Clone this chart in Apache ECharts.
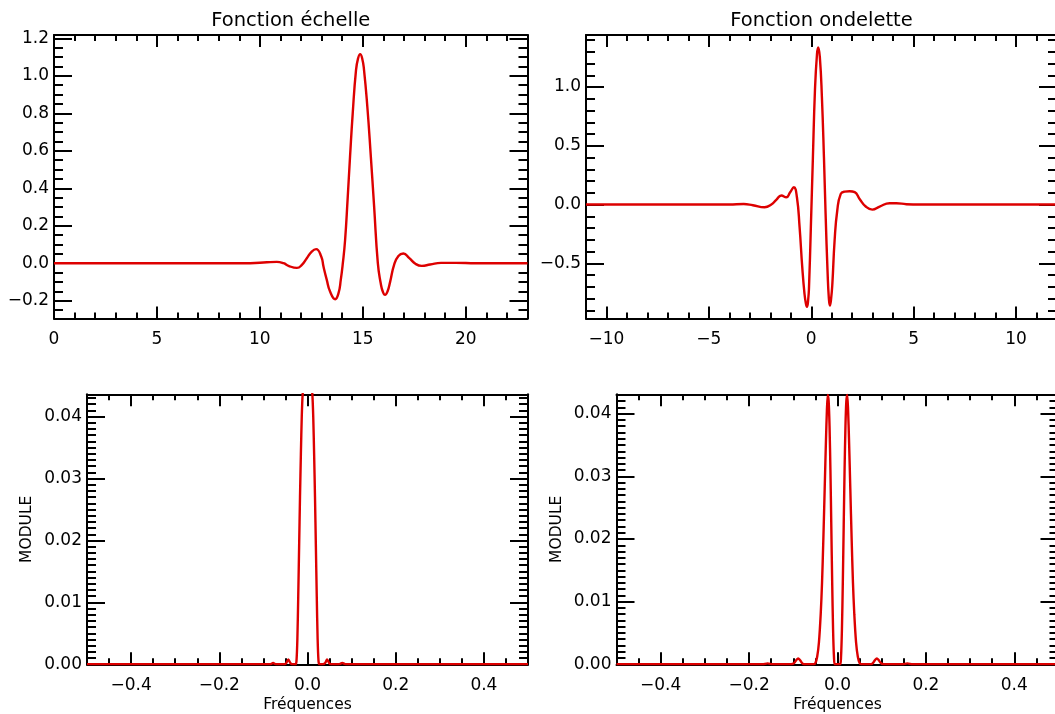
<!DOCTYPE html>
<html><head><meta charset="utf-8">
<script src="https://cdn.jsdelivr.net/npm/echarts@6/dist/echarts.min.js"></script>
<style>html,body{margin:0;padding:0;background:#fff}#c{width:1055px;height:714px}</style>
</head><body><div id="c"></div>
<script>
// ---- data ----
const echelleX = [0, 3, 6, 9, 9.53, 10.34, 10.82, 11.15, 11.39, 11.80, 12.04, 12.28, 12.52, 12.73, 12.98, 13.09, 13.25, 13.41, 13.66, 13.82, 13.93, 14.03, 14.14, 14.26, 14.38, 14.51, 14.67, 14.77, 14.87, 14.97, 15.06, 15.22, 15.39, 15.55, 15.73, 15.87, 15.97, 16.08, 16.20, 16.33, 16.52, 16.73, 16.97, 17.26, 17.57, 17.86, 18.27, 18.8, 19.5, 20.5, 23];
const echelleY = [0, 0, 0, 0, 0, 0.005, 0.007, 0, -0.014, -0.025, -0.009, 0.027, 0.062, 0.075, 0.036, -0.018, -0.089, -0.151, -0.192, -0.16, -0.089, 0, 0.124, 0.338, 0.569, 0.80, 1.031, 1.093, 1.116, 1.093, 1.031, 0.835, 0.569, 0.302, 0, -0.107, -0.151, -0.169, -0.151, -0.098, -0.009, 0.039, 0.052, 0.027, -0.004, -0.014, -0.007, 0.002, 0.002, 0, 0];

const ondeletteX = [-11, -7, -4, -3.3, -2.85, -2.28, -1.95, -1.71, -1.46, -1.22, -1.03, -0.85, -0.70, -0.57, -0.44, -0.33, -0.26, -0.21, -0.15, -0.11, -0.02, 0.08, 0.18, 0.28, 0.34, 0.42, 0.52, 0.62, 0.70, 0.80, 0.86, 0.91, 0.97, 1.03, 1.14, 1.27, 1.44, 1.63, 1.87, 2.12, 2.36, 2.66, 2.98, 3.34, 3.83, 4.16, 4.64, 5.3, 8, 12];
const ondeletteY = [0, 0, 0, 0.004, -0.006, -0.023, 0, 0.04, 0.077, 0.062, 0.105, 0.147, 0.062, -0.193, -0.533, -0.76, -0.845, -0.87, -0.81, -0.703, -0.193, 0.40, 0.97, 1.281, 1.338, 1.253, 0.913, 0.40, -0.079, -0.59, -0.80, -0.86, -0.80, -0.675, -0.306, -0.051, 0.091, 0.11, 0.113, 0.105, 0.048, -0.017, -0.043, -0.017, 0.011, 0.011, 0.003, 0, 0, 0];

const moduleEchelleX = [-0.5, -0.1, -0.085, -0.078, -0.071, -0.052, -0.048, -0.0435, -0.039, -0.035, -0.027, -0.025, -0.023, -0.021, -0.019, -0.017, -0.015, -0.013, -0.011, -0.008, -0.004, 0, 0.004, 0.008, 0.011, 0.013, 0.015, 0.017, 0.019, 0.021, 0.023, 0.025, 0.027, 0.035, 0.040, 0.0445, 0.049, 0.053, 0.071, 0.079, 0.087, 0.1, 0.5];
const moduleEchelleY = [0, 0, 0, 0.0002, 0, 0, 0.0002, 0.0008, 0.0002, 0, 0, 0.0005, 0.004, 0.011, 0.019, 0.027, 0.034, 0.040, 0.0436, 0.0455, 0.0468, 0.047, 0.0468, 0.0455, 0.0436, 0.040, 0.034, 0.027, 0.019, 0.011, 0.004, 0.0005, 0, 0, 0.0002, 0.0008, 0.0002, 0, 0, 0.0002, 0, 0, 0];

const moduleOndeletteX = [-0.5, -0.17, -0.158, -0.146, -0.105, -0.098, -0.093, -0.089, -0.085, -0.080, -0.075, -0.054, -0.050, -0.046, -0.042, -0.038, -0.035, -0.032, -0.029, -0.026, -0.024, -0.022, -0.020, -0.018, -0.016, -0.014, -0.012, -0.010, -0.008, -0.006, 0, 0.006, 0.008, 0.010, 0.012, 0.014, 0.016, 0.018, 0.020, 0.022, 0.024, 0.026, 0.029, 0.032, 0.035, 0.038, 0.042, 0.046, 0.050, 0.054, 0.075, 0.080, 0.085, 0.089, 0.093, 0.098, 0.105, 0.146, 0.158, 0.17, 0.5];
const moduleOndeletteY = [0, 0, 0.00015, 0, 0, 0.0002, 0.0007, 0.00095, 0.0007, 0.0002, 0, 0, 0.0002, 0.0012, 0.0035, 0.008, 0.013, 0.020, 0.028, 0.036, 0.0405, 0.043, 0.042, 0.038, 0.031, 0.022, 0.013, 0.0055, 0.0012, 0, 0, 0, 0.0012, 0.0055, 0.013, 0.022, 0.031, 0.038, 0.042, 0.043, 0.0405, 0.036, 0.028, 0.020, 0.013, 0.008, 0.0035, 0.0012, 0.0002, 0, 0, 0.0002, 0.0007, 0.00095, 0.0007, 0.0002, 0, 0, 0.00015, 0, 0];

// ---- tick labels ----
const echelleXTicks = [0, 5, 10, 15, 20];
const echelleYTicks = [-0.2, 0, 0.2, 0.4, 0.6, 0.8, 1.0, 1.2];
const ondeletteXTicks = [-10, -5, 0, 5, 10];
const ondeletteYTicks = [-0.5, 0, 0.5, 1.0];
const freqTicks = [-0.4, -0.2, 0, 0.2, 0.4];
const moduleTicks = [0, 0.01, 0.02, 0.03, 0.04];

const titles = ['Fonction échelle', 'Fonction ondelette'];
const xName = 'Fréquences';
const yName = 'MODULE';

// ---- helpers ----
function steps(a, b, s) { const out = []; const n = Math.round((b - a) / s); for (let i = 0; i <= n; i++) out.push(+(a + i * s).toFixed(6)); return out; }
function fmt(d) { return function (v) { return (Math.abs(v) < 1e-12 ? 0 : v).toFixed(d).replace('-', '\u2212'); }; }
function pairs(xs, ys) { return xs.map((x, i) => [x, ys[i]]); }

const FONT = 'DejaVu Sans';
const BLACK = '#000';
const RED = '#dd0000';
const grids = [], xAxes = [], yAxes = [], series = [];

function addPanel(p) {
  const gi = grids.length;
  grids.push({ left: p.left, top: p.top, width: p.width, height: p.height, containLabel: false, outerBoundsMode: 'none' });
  const lineStyle = { color: BLACK, width: 2 };
  const tickStyle = { color: BLACK, width: 2 };
  const common = { type: 'value', gridIndex: gi, splitLine: { show: false }, minorTick: { show: false }, splitArea: { show: false }, nameMoveOverlap: false };
  const lbl = (vals, d, margin) => ({ show: true, customValues: vals, formatter: fmt(d), margin: margin, color: BLACK, fontFamily: FONT, fontSize: 17 });
  const noLbl = { show: false };
  function mk(dim, pos, main, vals, len, label, extra) {
    return Object.assign({}, common, {
      min: dim === 'x' ? p.xMin : p.yMin, max: dim === 'x' ? p.xMax : p.yMax,
      position: pos,
      axisLine: { show: main, onZero: false, lineStyle: lineStyle },
      axisTick: { show: true, inside: true, length: len, customValues: vals, lineStyle: tickStyle },
      axisLabel: label || noLbl
    }, extra || {});
  }
  const xi = xAxes.length, yi = yAxes.length;
  xAxes.push(mk('x', 'bottom', true, p.xTicks, 12, lbl(p.xTicks, p.xDec, 12.5),
    p.xName ? { name: p.xName, nameLocation: 'middle', nameGap: 33, nameTextStyle: { color: BLACK, fontFamily: FONT, fontSize: 15.5 } } : {}));
  xAxes.push(mk('x', 'bottom', false, p.xMinor, 6));
  xAxes.push(mk('x', 'top', true, p.xTicks, 12));
  xAxes.push(mk('x', 'top', false, p.xMinor, 6));
  yAxes.push(mk('y', 'left', true, p.yTicks, 18, lbl(p.yTicks, p.yDec, 5),
    p.yName ? { name: p.yName, nameLocation: 'middle', nameGap: 52, nameRotate: 90, nameTextStyle: { color: BLACK, fontFamily: FONT, fontSize: 15.5 } } : {}));
  yAxes.push(mk('y', 'left', false, p.yMinor, 9));
  yAxes.push(mk('y', 'right', true, p.yTicks, 18));
  yAxes.push(mk('y', 'right', false, p.yMinor, 9));
  series.push({
    type: 'line', xAxisIndex: xi, yAxisIndex: yi, data: pairs(p.xs, p.ys),
    showSymbol: false, symbol: 'none', smooth: p.smooth, clip: true,
    lineStyle: { color: RED, width: 2.4 }, emphasis: { disabled: true }, silent: true
  });
}

addPanel({ left: 54, top: 35, width: 473.5, height: 283.5,
  xMin: 0, xMax: 23, yMin: -0.295, yMax: 1.218,
  xTicks: echelleXTicks, xMinor: steps(0, 23, 1), xDec: 0,
  yTicks: echelleYTicks, yMinor: steps(-0.25, 1.2, 0.05), yDec: 1,
  xs: echelleX, ys: echelleY, smooth: 0.5 });
addPanel({ left: 586, top: 35, width: 471, height: 283.5,
  xMin: -11, xMax: 12, yMin: -0.97, yMax: 1.443,
  xTicks: ondeletteXTicks, xMinor: steps(-11, 12, 1), xDec: 0,
  yTicks: ondeletteYTicks, yMinor: steps(-0.9, 1.4, 0.1), yDec: 1,
  xs: ondeletteX, ys: ondeletteY, smooth: 0.5 });
addPanel({ left: 87, top: 394.3, width: 441, height: 270,
  xMin: -0.5, xMax: 0.5, yMin: 0, yMax: 0.0436,
  xTicks: freqTicks, xMinor: steps(-0.5, 0.5, 0.05), xDec: 1,
  yTicks: moduleTicks, yMinor: steps(0, 0.043, 0.001), yDec: 2,
  xName: xName, yName: yName,
  xs: moduleEchelleX, ys: moduleEchelleY, smooth: 0.3 });
addPanel({ left: 616.5, top: 394.3, width: 442, height: 270,
  xMin: -0.5, xMax: 0.5, yMin: 0, yMax: 0.0431,
  xTicks: freqTicks, xMinor: steps(-0.5, 0.5, 0.05), xDec: 1,
  yTicks: moduleTicks, yMinor: steps(0, 0.043, 0.001), yDec: 2,
  xName: xName, yName: yName,
  xs: moduleOndeletteX, ys: moduleOndeletteY, smooth: 0.3 });

const chart = echarts.init(document.getElementById('c'), null, { renderer: 'canvas' });
chart.setOption({
  animation: false,
  backgroundColor: '#fff',
  title: [
    { text: titles[0], left: 290.8, top: 11, textAlign: 'center', padding: 0, textStyle: { fontFamily: FONT, fontSize: 19.5, fontWeight: 'normal', color: BLACK } },
    { text: titles[1], left: 821.5, top: 11, textAlign: 'center', padding: 0, textStyle: { fontFamily: FONT, fontSize: 19.5, fontWeight: 'normal', color: BLACK } }
  ],
  grid: grids,
  xAxis: xAxes,
  yAxis: yAxes,
  series: series
});
</script>
</body></html>
